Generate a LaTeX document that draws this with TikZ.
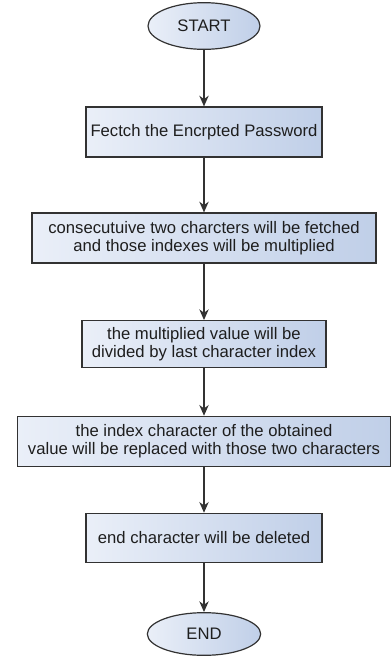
\documentclass[tikz,border=0pt]{standalone}
\usepackage{fontspec}
\setmainfont{Liberation Sans}
\usetikzlibrary{arrows.meta,positioning,shapes.geometric}
\definecolor{boxleft}{RGB}{234,239,248}
\definecolor{boxright}{RGB}{192,207,232}
\definecolor{edgegray}{RGB}{50,50,50}
\definecolor{textgray}{RGB}{30,30,30}

\begin{document}
\begin{tikzpicture}[
            node distance=79.5pt,
            font=\fontsize{12.5}{13.6}\selectfont,
            % Stili
            startstop/.style={ellipse, draw=edgegray, line width=0.9pt, left color=boxleft, right color=boxright, minimum width=84pt, minimum height=35pt, inner sep=0pt, text=textgray},
            process/.style={rectangle, draw=edgegray, line width=0.9pt, left color=boxleft, right color=boxright, minimum height=37.5pt, inner sep=0pt, align=center, text=textgray},
            arrow/.style={line width=1.1pt, draw=edgegray, -{Stealth[length=8pt, width=7pt, inset=2.5pt]}}
        ]
        \useasboundingbox (0,0) rectangle (292.5pt,-492.75pt);

        % Nodi
        \node (start) [startstop] at (153pt,-19.5pt) {START};
        \node (fetch) [process, minimum width=177pt, below of=start] {Fectch the Encrpted Password};
        \node (multiply) [process, minimum width=258pt, below of=fetch] {consecutuive two charcters will be fetched\\and those indexes will be multiplied};
        \node (divide) [process, minimum width=183pt, minimum height=35pt, below of=multiply] {the multiplied value will be\\divided by last character index};
        \node (replace) [process, minimum width=280pt, below of=divide, yshift=6.5pt] {the index character of the obtained\\value will be replaced with those two characters};
        \node (delete) [process, minimum width=177pt, minimum height=37pt, below of=replace, yshift=7pt] {end character will be deleted};
        \node (end) [startstop, minimum width=85pt, minimum height=32pt, below of=delete, yshift=7.5pt] {END};

        % Collegamenti
        \draw [arrow] (start) -- (fetch);
        \draw [arrow] (fetch) -- (multiply);
        \draw [arrow] (multiply) -- (divide);
        \draw [arrow] (divide) -- (replace);
        \draw [arrow] (replace) -- (delete);
        \draw [arrow] (delete) -- (end);

    \end{tikzpicture}
\end{document}
